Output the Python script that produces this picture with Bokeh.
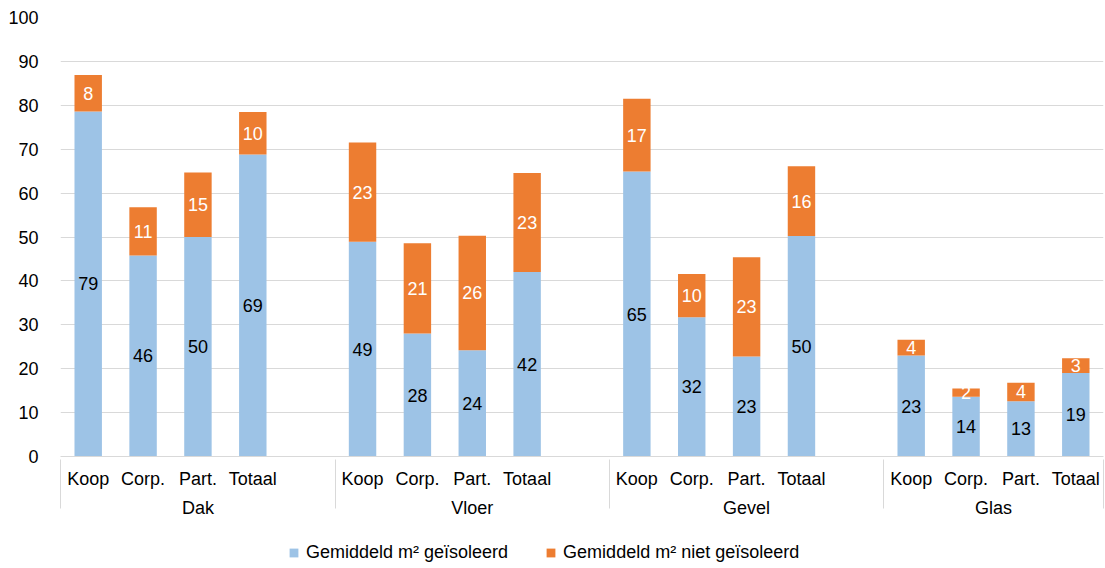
from bokeh.plotting import figure
from bokeh.models import (ColumnDataSource, FactorRange, Range1d, FixedTicker,
                          Legend, LegendItem)
from bokeh.layouts import column
from bokeh.core.properties import value
from bokeh.embed import file_html
from bokeh.resources import INLINE

groups = ["Dak", "Vloer", "Gevel", "Glas"]
subs = ["Koop", "Corp.", "Part.", "Totaal"]
geisoleerd = [78.6, 45.8, 50.0, 68.8,
              48.9, 28.0, 24.2, 42.0,
              64.9, 31.7, 22.8, 50.2,
              23.0, 13.6, 12.6, 19.0]
niet_geisoleerd = [8.3, 11.0, 14.7, 9.7,
                   22.6, 20.6, 26.1, 22.6,
                   16.6, 9.9, 22.6, 15.9,
                   3.6, 1.9, 4.2, 3.4]
series_names = ["Gemiddeld m\u00b2 ge\u00efsoleerd", "Gemiddeld m\u00b2 niet ge\u00efsoleerd"]
colors = ["#9DC3E6", "#ED7D31"]
yticks = list(range(0, 101, 10))

FONT = "Liberation Sans"
FS = "18px"

x = [(g, s) for g in groups for s in subs]

# factor list: a spacer slot after each group except the last, plus
# invisible edge groups so the axis draws separators at both ends
factors = [(" ", "")]
for i, g in enumerate(groups):
    factors += [(g, s) for s in subs]
    if i < len(groups) - 1:
        factors.append((g, ""))
factors.append(("  ", ""))

src = ColumnDataSource(dict(
    x=x,
    a=geisoleerd,
    b=niet_geisoleerd,
    ya=[v / 2 for v in geisoleerd],
    yb=[a + b / 2 for a, b in zip(geisoleerd, niet_geisoleerd)],
    la=[f"{v:.0f}" for v in geisoleerd],
    lb=[f"{v:.0f}" for v in niet_geisoleerd],
))

xr = FactorRange(*factors, factor_padding=0, group_padding=0,
                 subgroup_padding=0, range_padding=-0.995,
                 range_padding_units="absolute")

p = figure(x_range=xr, y_range=Range1d(0, 100),
           frame_width=1043, frame_height=439,
           output_backend="svg", toolbar_location=None,
           min_border_left=60, min_border_right=1, min_border_top=17,
           min_border_bottom=80)

rs = p.vbar_stack(["a", "b"], x="x", width=0.5, source=src, color=colors,
                  line_color=None)

p.text(x="x", y="ya", text="la", source=src, text_align="center",
       text_baseline="middle", text_font=value(FONT), text_font_size=FS,
       text_color="#000000")
p.text(x="x", y="yb", text="lb", source=src, text_align="center",
       text_baseline="middle", text_font=value(FONT), text_font_size=FS,
       text_color="#FFFFFF")

p.outline_line_color = None
p.xgrid.grid_line_color = None
p.ygrid.grid_line_color = "#D9D9D9"
p.ygrid.grid_line_width = 1

p.yaxis.ticker = FixedTicker(ticks=yticks)
p.yaxis.axis_line_color = None
p.yaxis.major_tick_line_color = None
p.yaxis.minor_tick_line_color = None
p.yaxis.major_label_text_font = FONT
p.yaxis.major_label_text_font_size = FS
p.yaxis.major_label_text_color = "#000000"
p.yaxis.major_label_standoff = 16

xa = p.xaxis[0]
xa.axis_line_color = "#D9D9D9"
xa.axis_line_width = 1
xa.major_tick_line_color = None
xa.minor_tick_line_color = None
xa.major_label_text_font = FONT
xa.major_label_text_font_size = FS
xa.major_label_text_color = "#000000"
xa.major_label_standoff = 6
xa.group_text_font = FONT
xa.group_text_font_size = FS
xa.group_text_font_style = "normal"
xa.group_text_color = "#000000"
xa.separator_line_color = "#D9D9D9"
xa.separator_line_width = 1

# legend strip below the chart (proxy renderers sit outside the visible range)
leg = figure(width=1104, height=32, x_range=Range1d(0, 1), y_range=Range1d(0, 1),
             output_backend="svg", toolbar_location=None,
             x_axis_location=None, y_axis_location=None,
             min_border_left=0, min_border_right=0, min_border_top=0,
             min_border_bottom=0)
leg.outline_line_color = None
leg.xgrid.grid_line_color = None
leg.ygrid.grid_line_color = None
leg_src = ColumnDataSource(dict(x=[-5.0], top=[-5.0]))
leg_rs = [leg.vbar(x="x", top="top", width=0.1, source=leg_src,
                   fill_color=colors[i], line_color=None) for i in range(2)]

legend = Legend(items=[LegendItem(label=series_names[i], renderers=[leg_rs[i]])
                       for i in range(2)],
                orientation="horizontal", location=(228, 5),
                label_text_font=FONT, label_text_font_size=FS,
                label_text_color="#000000",
                glyph_width=11, glyph_height=11, label_standoff=7,
                spacing=37, padding=0, margin=0,
                border_line_color=None, background_fill_alpha=0)
leg.add_layout(legend)

layout = column(p, leg, spacing=0)

open("out.html", "w").write(file_html(layout, INLINE))
